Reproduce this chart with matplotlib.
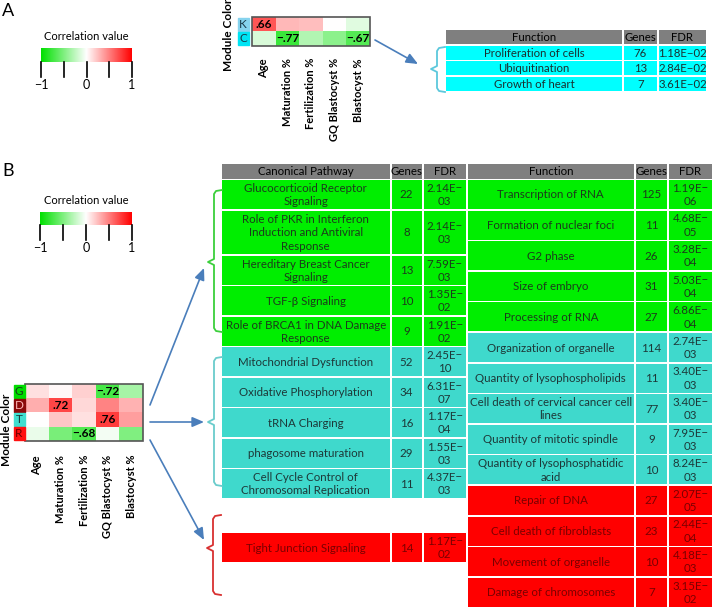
import numpy as np
import matplotlib
matplotlib.use("Agg")
import matplotlib.pyplot as plt
from matplotlib.colors import LinearSegmentedColormap
from matplotlib.patches import Rectangle

plt.rcParams["font.family"] = ["Lato", "DejaVu Sans"]

# ---------------- data ----------------
traits = ["Age", "Maturation %", "Fertilization %", "GQ Blastocyst %", "Blastocyst %"]

# panel A
modules_a = ["K", "C"]
corr_a = [[0.66, 0.28, 0.25, 0.0, -0.12],
          [-0.15, -0.77, -0.30, -0.45, -0.67]]
funcs_a = ["Proliferation of cells", "Ubiquitination", "Growth of heart"]
genes_a = [76, 13, 7]
fdr_a = ["1.18E-02", "2.84E-02", "3.61E-02"]

# panel B
modules_b = ["G", "D", "T", "R"]
corr_b = [[0.12, 0.03, 0.18, -0.72, -0.35],
          [0.32, 0.72, 0.15, 0.48, 0.30],
          [0.0, 0.22, 0.12, 0.76, 0.38],
          [-0.08, -0.52, -0.68, -0.04, -0.50]]

path_names = ["Glucocorticoid Receptor\nSignaling",
              "Role of PKR in Interferon\nInduction and Antiviral\nResponse",
              "Hereditary Breast Cancer\nSignaling",
              "TGF-β Signaling",
              "Role of BRCA1 in DNA Damage\nResponse",
              "Mitochondrial Dysfunction",
              "Oxidative Phosphorylation",
              "tRNA Charging",
              "phagosome maturation",
              "Cell Cycle Control of\nChromosomal Replication",
              "Tight Junction Signaling"]
path_genes = [22, 8, 13, 10, 9, 52, 34, 16, 29, 11, 14]
path_fdr = ["2.14E-03", "2.14E-03", "7.59E-03", "1.35E-02", "1.91E-02",
            "2.45E-10", "6.31E-07", "1.17E-04", "1.55E-03", "4.37E-03", "1.17E-02"]
path_module = ["G"] * 5 + ["T"] * 5 + ["R"]

func_names = ["Transcription of RNA", "Formation of nuclear foci", "G2 phase",
              "Size of embryo", "Processing of RNA", "Organization of organelle",
              "Quantity of lysophospholipids", "Cell death of cervical cancer cell\nlines",
              "Quantity of mitotic spindle", "Quantity of lysophosphatidic\nacid",
              "Repair of DNA", "Cell death of fibroblasts", "Movement of organelle",
              "Damage of chromosomes"]
func_genes = [125, 11, 26, 31, 27, 114, 11, 77, 9, 10, 27, 23, 10, 7]
func_fdr = ["1.19E-06", "4.68E-05", "3.28E-04", "5.03E-04", "6.86E-04",
            "2.74E-03", "3.40E-03", "3.40E-03", "7.95E-03", "8.24E-03",
            "2.07E-05", "2.44E-04", "4.18E-03", "3.15E-02"]
func_module = ["G"] * 5 + ["T"] * 5 + ["R"] * 4

# ---------------- style ----------------
cmap = LinearSegmentedColormap.from_list("corr", ["#00e000", "#ffffff", "#ff0000"])
ROW_BG = {"G": "#00ee00", "T": "#3fd9cc", "R": "#ff0000", "C": "#00ffff"}
ROW_FG = {"G": "#1c3a1c", "T": "#1d3838", "R": "#7a0000", "C": "#1a3030"}
BOX_BG = {"K": "#86d3ee", "C": "#00e4f4", "G": "#00dd00", "D": "#8b0a0a",
          "T": "#40dfd0", "R": "#ff1010"}
BOX_FG = {"K": "#1a3a4a", "C": "#1a3a4a", "G": "#1a3a1a", "D": "#ffb8b8",
          "T": "#1a3a3a", "R": "#6a0000"}
BRACE = {"G": "#3ccf3c", "T": "#6acccc", "R": "#d83030", "C": "#5cc8dc"}
HEAD = "#7f7f7f"
ARROW = "#4a7ebb"
FS_A, FS_B = 8.2, 8.3

fig = plt.figure(figsize=(7.14, 6.10), dpi=100)
ax = fig.add_axes([0, 0, 1, 1])


def minus(s):
    return s.replace("-", "−")


def colorbar(x0, x1, y0, y1):
    ax.text((x0 + x1) / 2, y0 - 11, "Correlation value", ha="center", va="center", fontsize=8)
    grad = np.linspace(-1, 1, 256)[None, :]
    ax.imshow(grad, cmap=cmap, vmin=-1, vmax=1, extent=(x0, x1, y1, y0),
              aspect="auto", interpolation="bilinear")
    for k, v in enumerate([-1, -0.5, 0, 0.5, 1]):
        xt = x0 + (x1 - x0) * (v + 1) / 2
        ax.plot([xt, xt], [y1, y1 + 15], color="k", lw=1.2)
        if k % 2 == 0:
            ax.text(xt, y1 + 23, minus(f"{v:g}"), ha="center", va="center", fontsize=9)


def heatmap(corr, modules, x0, y0, cw, rh, label_y, modx, mod_label_x, mod_label_y):
    arr = np.array(corr)
    nr, nc = arr.shape
    ax.imshow(arr, cmap=cmap, vmin=-1, vmax=1,
              extent=(x0, x0 + nc * cw, y0 + nr * rh, y0),
              aspect="auto", interpolation="nearest")
    ax.add_patch(Rectangle((x0, y0), nc * cw, nr * rh, fill=False, ec="#555555", lw=1.2))
    for i in range(nr):
        for j in range(nc):
            v = arr[i, j]
            if abs(v) >= 0.6:
                s = minus(f"{v:.2f}".replace("0.", "."))
                ax.text(x0 + (j + 0.5) * cw, y0 + (i + 0.5) * rh, s, ha="center",
                        va="center", fontsize=8.5, fontweight="bold")
        m = modules[i]
        ax.add_patch(Rectangle((modx, y0 + i * rh + 0.7), 11, rh - 1.4, color=BOX_BG[m]))
        ax.text(modx + 5.5, y0 + (i + 0.5) * rh, m, ha="center", va="center",
                fontsize=8.5, color=BOX_FG[m])
    for j, t in enumerate(traits):
        ax.text(x0 + (j + 0.5) * cw, label_y, t, rotation=90, ha="center", va="top",
                fontsize=8, fontweight="bold")
    ax.text(mod_label_x, mod_label_y, "Module Color", rotation=90, ha="center",
            va="center", fontsize=8.5, fontweight="bold")


def cell(x0, x1, y0, y1, bg, txt, fg, fs):
    ax.add_patch(Rectangle((x0, y0), x1 - x0, y1 - y0, color=bg, lw=0))
    ax.text((x0 + x1) / 2, (y0 + y1) / 2 + 0.5, txt, ha="center", va="center",
            fontsize=fs, color=fg, linespacing=1.25)


def brace(x, top, bot, mid, color):
    xs = [x + 8, x + 2, x, x, x - 6, x, x, x + 2, x + 8]
    ys = [top, top + 1, top + 4, mid - 3, mid, mid + 3, bot - 4, bot - 1, bot]
    ax.plot(xs, ys, color=color, lw=1.3, solid_joinstyle="round")


def arrow(p0, p1):
    ax.annotate("", xy=p1, xytext=p0,
                arrowprops=dict(arrowstyle="-|>,head_length=0.7,head_width=0.3",
                                color=ARROW, lw=1.2, shrinkA=0, shrinkB=0))


# ---------------- panel A ----------------
ax.text(2, 11, "A", fontsize=13, va="center", ha="left")
colorbar(41, 132, 48, 62)
heatmap(corr_a, modules_a, 252, 17, 23.6, 14.5, 58, 237.5, 229, 35)
arrow((375, 40), (418, 64))

cols_a = [(446, 622), (624, 657), (659, 706)]
for (c0, c1), h in zip(cols_a, ["Function", "Genes", "FDR"]):
    cell(c0, c1, 30, 44, HEAD, h, "k", FS_A)
for i, (f, g, q) in enumerate(zip(funcs_a, genes_a, fdr_a)):
    y0 = 45.5 + i * 15.6
    for (c0, c1), t in zip(cols_a, [f, str(g), minus(q)]):
        cell(c0, c1, y0, y0 + 14.2, ROW_BG["C"], t, ROW_FG["C"], FS_A)
brace(437, 47, 92, 69, BRACE["C"])

# ---------------- panel B ----------------
ax.text(2, 171, "B", fontsize=13, va="center", ha="left")
colorbar(40, 132, 212, 225)
heatmap(corr_b, modules_b, 25, 384, 23.6, 14.25, 455, 13.5, 6.5, 430)
arrow((150, 405), (204, 268))
arrow((150, 422), (204, 422))
arrow((150, 440), (204, 540))

cols_p = [(222, 389.5), (391.5, 421.5), (423.5, 466)]
cols_f = [(467.5, 634), (636, 667), (669, 712)]
for cols, names in [(cols_p, ["Canonical Pathway", "Genes", "FDR"]),
                    (cols_f, ["Function", "Genes", "FDR"])]:
    for (c0, c1), h in zip(cols, names):
        cell(c0, c1, 164, 178.5, HEAD, h, "k", FS_B)

y = 180
for n, g, q, m in zip(path_names, path_genes, path_fdr, path_module):
    h = 14.75 * max(2, n.count("\n") + 1) + 1
    if m == "R":
        y = 533
    for (c0, c1), t in zip(cols_p, [n, str(g), q.replace("-", "−\n")]):
        cell(c0, c1, y, y + h - 1.5, ROW_BG[m], t, ROW_FG[m], FS_B)
    y += h

for i, (n, g, q, m) in enumerate(zip(func_names, func_genes, func_fdr, func_module)):
    y0 = 180 + i * 30.6
    for (c0, c1), t in zip(cols_f, [n, str(g), q.replace("-", "−\n")]):
        cell(c0, c1, y0, y0 + 29, ROW_BG[m], t, ROW_FG[m], FS_B)

brace(214, 190, 332, 262, BRACE["G"])
brace(214, 357, 486, 422, BRACE["T"])
brace(213, 515, 595, 548, BRACE["R"])

ax.set_xlim(0, 714)
ax.set_ylim(610, 0)
ax.axis("off")
fig.savefig("out.png", dpi=100)
